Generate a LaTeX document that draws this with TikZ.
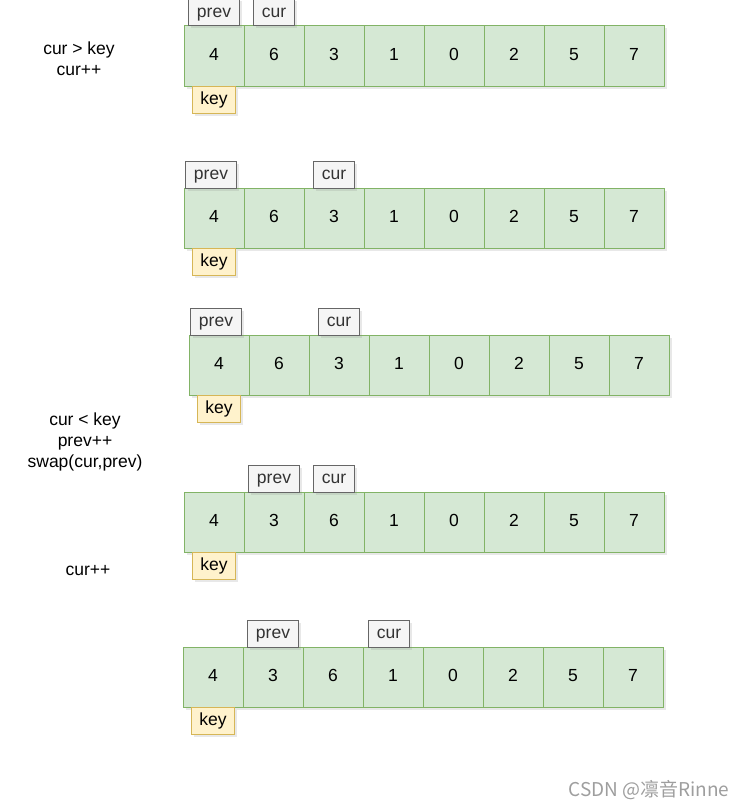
\documentclass[tikz,border=0pt]{standalone}
\usepackage{fontspec}
\setmainfont{Liberation Sans}
\newfontfamily\cjk{Noto Sans CJK SC}
\usetikzlibrary{positioning, shadows}

\definecolor{cellfill}{HTML}{D5E8D4}
\definecolor{celldraw}{HTML}{82B366}
\definecolor{ptrfill}{HTML}{F5F5F5}
\definecolor{ptrdraw}{HTML}{666666}
\definecolor{ptrtext}{HTML}{333333}
\definecolor{keyfill}{HTML}{FFF2CC}
\definecolor{keydraw}{HTML}{D6B656}

\begin{document}
\begin{tikzpicture}[
  x=1pt, y=-1pt,
  node distance=0pt,
  font=\fontsize{17.5}{21}\selectfont,
  shade/.style={drop shadow={opacity=0.18, shadow xshift=2.5pt, shadow yshift=-2.5pt}},
  cell/.style={rectangle, draw=celldraw, fill=cellfill, line width=1pt, minimum width=60pt, minimum height=60pt, text height=13pt, text depth=3.5pt, outer sep=0pt, inner sep=0pt, shade},
  ptr/.style={rectangle, draw=ptrdraw, fill=ptrfill, text=ptrtext, line width=1pt, minimum height=27pt, text height=13pt, text depth=3pt, inner xsep=8pt, inner ysep=0pt, outer sep=0pt, shade},
  keybox/.style={rectangle, draw=keydraw, fill=keyfill, line width=1pt, minimum height=27pt, text height=13pt, text depth=3pt, inner xsep=8pt, inner ysep=0pt, outer sep=0pt, shade},
  note/.style={align=center}
]
\useasboundingbox (0,0) rectangle (746,808);

% the five array states
\foreach \r/\x/\y/\vals in {a/184/26/{4,6,3,1,0,2,5,7}, b/184/188/{4,6,3,1,0,2,5,7},
    c/189/335/{4,6,3,1,0,2,5,7}, d/184/492/{4,3,6,1,0,2,5,7}, e/183/647/{4,3,6,1,0,2,5,7}}
  \foreach \v [count=\i from 0] in \vals
    \node[cell] (\r\i) at (\x+30+60*\i, \y+30) {\v};

% pointers and key
\node[ptr, above=of a0] (pa) {prev};
\node[ptr, above=of a1] (ca) {cur};
\node[keybox, below=of a0] (ka) {key};

\node[ptr, above=of b0, xshift=-3pt] (pb) {prev};
\node[ptr, above=of b2] (cb) {cur};
\node[keybox, below=of b0] (kb) {key};

\node[ptr, above=of c0, xshift=-3pt] (pc) {prev};
\node[ptr, above=of c2] (cc) {cur};
\node[keybox, below=of c0] (kc) {key};

\node[ptr, above=of d1] (pd) {prev};
\node[ptr, above=of d2] (cd) {cur};
\node[keybox, below=of d0] (kd) {key};

\node[ptr, above=of e1] (pe) {prev};
\node[ptr, above=of e3, xshift=-4pt] (ce) {cur};
\node[keybox, below=of e0] (ke) {key};

% step notes
\node[note] (n1) at (79,59) {cur > key\\cur++};
\node[note] (n2) at (85,442) {cur < key\\prev++\\swap(cur,prev)};
\node[note] (n3) at (88,571) {cur++};

\node[anchor=east, text=black!38, font=\cjk\fontsize{19}{22}\selectfont] (mark) at (733,790) {CSDN @凛音Rinne};
\end{tikzpicture}
\end{document}
